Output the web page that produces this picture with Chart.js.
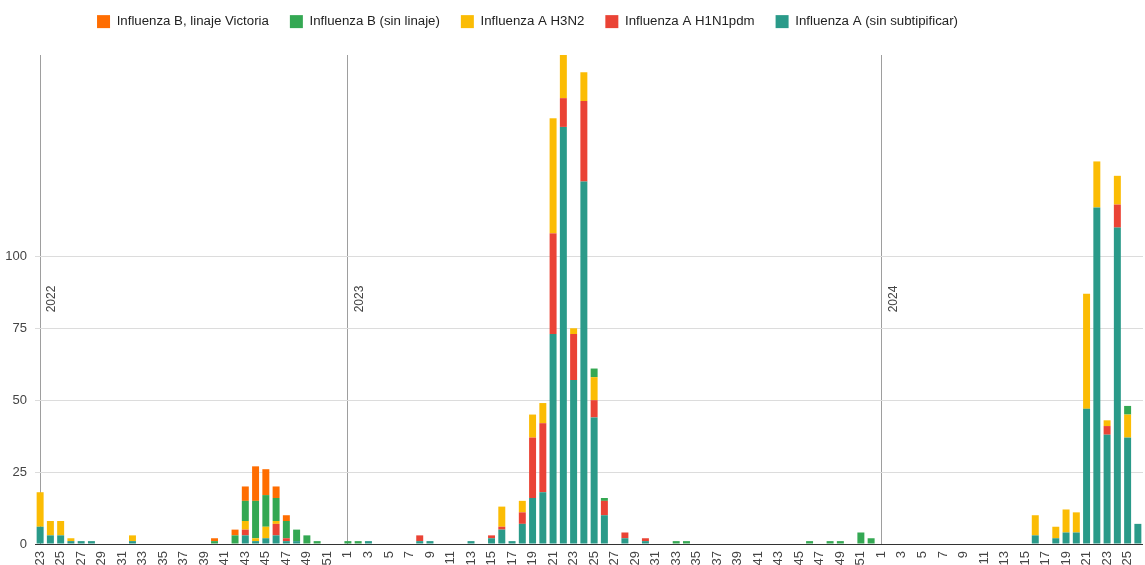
<!DOCTYPE html>
<html>
<head>
<meta charset="utf-8">
<script src="https://cdn.jsdelivr.net/npm/chart.js@4.4.1/dist/chart.umd.min.js"></script>
<style>
  html, body { margin: 0; padding: 0; background: #fff; overflow: hidden; }
  #wrap { width: 1145px; height: 565px; overflow: hidden; }
</style>
</head>
<body>
<div id="wrap"><canvas id="chart" width="1145" height="600"></canvas></div>
<script>
// semanas epidemiológicas por año
const years = ["2022", "2023", "2024"];
const weeks2022 = [23,24,25,26,27,28,29,30,31,32,33,34,35,36,37,38,39,40,41,42,43,44,45,46,47,48,49,50,51,52];
const weeks2023 = [1,2,3,4,5,6,7,8,9,10,11,12,13,14,15,16,17,18,19,20,21,22,23,24,25,26,
                   27,28,29,30,31,32,33,34,35,36,37,38,39,40,41,42,43,44,45,46,47,48,49,50,51,52];
const weeks2024 = [1,2,3,4,5,6,7,8,9,10,11,12,13,14,15,16,17,18,19,20,21,22,23,24,25,26];

// series (2022 | 2023 | 2024)
const fluASinSub = [
  6,3,3,1,1,1,0,0,0,1, 0,0,0,0,0,0,0,0,0,0, 3,1,2,3,1,1,0,0,0,0,
  0,0,1,0,0,0,0,1,1,0, 0,0,1,0,2,5,1,7,16,18, 73,145,57,126,44,10,0,2,0,1,
  0,0,0,0,0,0,0,0,0,0, 0,0,0,0,0,0,0,0,0,0, 0,0,
  0,0,0,0,0,0,0,0,0,0, 0,0,0,0,0,3,0,2,4,4, 47,117,38,110,37,7
];
const fluAH1N1 = [
  0,0,0,0,0,0,0,0,0,0, 0,0,0,0,0,0,0,0,0,0, 2,0,0,4,1,0,0,0,0,0,
  0,0,0,0,0,0,0,2,0,0, 0,0,0,0,1,1,0,4,21,24, 35,10,16,28,6,5,0,2,0,1,
  0,0,0,0,0,0,0,0,0,0, 0,0,0,0,0,0,0,0,0,0, 0,0,
  0,0,0,0,0,0,0,0,0,0, 0,0,0,0,0,0,0,0,0,0, 0,0,3,8,0,0
];
const fluAH3N2 = [
  12,5,5,1,0,0,0,0,0,2, 0,0,0,0,0,0,0,0,0,0, 3,1,4,1,0,0,0,0,0,0,
  0,0,0,0,0,0,0,0,0,0, 0,0,0,0,0,7,0,4,8,7, 40,15,2,10,8,0,0,0,0,0,
  0,0,0,0,0,0,0,0,0,0, 0,0,0,0,0,0,0,0,0,0, 0,0,
  0,0,0,0,0,0,0,0,0,0, 0,0,0,0,0,7,0,4,8,7, 40,16,2,10,8,0
];
const fluBSinLinaje = [
  0,0,0,0,0,0,0,0,0,0, 0,0,0,0,0,0,0,1,0,3, 7,13,11,8,6,4,3,1,0,0,
  1,1,0,0,0,0,0,0,0,0, 0,0,0,0,0,0,0,0,0,0, 0,0,0,0,3,1,0,0,0,0,
  0,0,1,1,0,0,0,0,0,0, 0,0,0,0,0,1,0,1,1,0, 4,2,
  0,0,0,0,0,0,0,0,0,0, 0,0,0,0,0,0,0,0,0,0, 0,0,0,0,3,0
];
const fluBVictoria = [
  0,0,0,0,0,0,0,0,0,0, 0,0,0,0,0,0,0,1,0,2, 5,12,9,4,2,0,0,0,0,0,
  0,0,0,0,0,0,0,0,0,0, 0,0,0,0,0,0,0,0,0,0, 0,0,0,0,0,0,0,0,0,0,
  0,0,0,0,0,0,0,0,0,0, 0,0,0,0,0,0,0,0,0,0, 0,0,
  0,0,0,0,0,0,0,0,0,0, 0,0,0,0,0,0,0,0,0,0, 0,0,0,0,0,0
];

const yAxisTicksMax = 100;
const yAxisMax = 170;

const weekLabels = weeks2022.concat(weeks2023, weeks2024);
const yearStarts = [0, weeks2022.length, weeks2022.length + weeks2023.length];
const FONT = '"Liberation Sans", Arial, sans-serif';

// legend gets a fixed height so the plot starts where the reference does
const legendSpacer = {
  id: "legendSpacer",
  beforeInit(chart) {
    const fit = chart.legend.fit;
    chart.legend.fit = function () {
      fit.call(this);
      this.height = 55;
    };
  },
  afterLayout(chart) {
    chart.legend.left -= 44;
    chart.legend.right -= 44;
    chart.legend.top -= 6;
  },
};

// year captions next to the year separators
const yearLabels = {
  id: "yearLabels",
  afterDatasetsDraw(chart) {
    const { ctx } = chart;
    const x = chart.scales.x;
    ctx.save();
    ctx.font = "12px " + FONT;
    ctx.fillStyle = "#444";
    ctx.textAlign = "center";
    ctx.textBaseline = "middle";
    yearStarts.forEach((idx, k) => {
      ctx.save();
      ctx.translate(x.getPixelForValue(idx) + 12, 299);
      ctx.rotate(-Math.PI / 2);
      ctx.fillText(years[k], 0, 0);
      ctx.restore();
    });
    ctx.restore();
  },
};

function barSet(label, data, color) {
  return {
    label,
    data,
    backgroundColor: color,
    borderWidth: 0,
    barPercentage: 0.68,
    categoryPercentage: 1.0,
  };
}

new Chart(document.getElementById("chart"), {
  type: "bar",
  data: {
    labels: weekLabels,
    datasets: [
      barSet("Influenza A (sin subtipificar)", fluASinSub, "#2a9a89"),
      barSet("Influenza A H1N1pdm", fluAH1N1, "#ea4335"),
      barSet("Influenza A H3N2", fluAH3N2, "#fbbc04"),
      barSet("Influenza B (sin linaje)", fluBSinLinaje, "#34a853"),
      barSet("Influenza B, linaje Victoria", fluBVictoria, "#ff6d01"),
    ],
  },
  plugins: [legendSpacer, yearLabels],
  options: {
    responsive: false,
    animation: false,
    layout: { padding: { left: 0, right: 2, top: 0, bottom: 0 } },
    plugins: {
      legend: {
        position: "top",
        reverse: true,
        labels: {
          boxWidth: 13,
          boxHeight: 13,
          padding: 21,
          color: "#222",
          font: { size: 13.25, family: FONT },
        },
      },
      tooltip: { enabled: false },
    },
    scales: {
      x: {
        stacked: true,
        border: { display: false },
        grid: {
          offset: false,
          drawTicks: false,
          color: (c) => (yearStarts.includes(c.index) ? "#9e9e9e" : "rgba(0,0,0,0)"),
        },
        ticks: {
          autoSkip: false,
          minRotation: 90,
          maxRotation: 90,
          padding: 7,
          color: "#444",
          font: { size: 13, family: FONT },
          callback: (v, i) => (weekLabels[i] % 2 === 1 ? String(weekLabels[i]) : ""),
        },
        afterFit: (s) => {
          s.height = 56;
          s.paddingLeft = 0;
          s.paddingRight = 0;
        },
      },
      y: {
        stacked: true,
        min: 0,
        max: yAxisMax,
        border: { display: false },
        grid: {
          drawTicks: false,
          color: (c) => (c.tick && c.tick.value === 0 ? "#333" : "#dcdcdc"),
        },
        ticks: {
          stepSize: 25,
          padding: 8,
          color: "#444",
          font: { size: 13, family: FONT },
        },
        afterBuildTicks: (s) => {
          s.ticks = s.ticks.filter((t) => t.value <= yAxisTicksMax);
        },
        afterFit: (s) => { s.width = 35; },
      },
    },
  },
});
</script>
</body>
</html>
